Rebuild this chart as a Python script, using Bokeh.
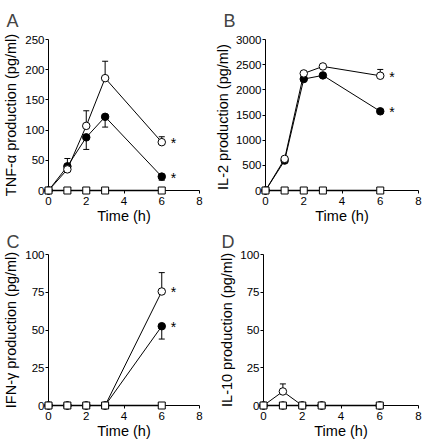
import numpy as np
from bokeh.plotting import figure
from bokeh.layouts import column, row
from bokeh.models import Range1d, FixedTicker
from bokeh.embed import file_html
from bokeh.resources import INLINE
from bokeh.core.properties import value

time_h = [0, 1, 2, 3, 6]
x_ticks = [0, 2, 4, 6, 8]

# Panel A: TNF-alpha
tnf_open = [0, 35, 107, 186, 80]
tnf_open_err = [0, 18, 25, 28, 9]
tnf_filled = [0, 40, 88, 122, 23]
tnf_filled_err = [0, 5, 20, 17, 6]
tnf_square = [0, 0, 0, 0, 0]

# Panel B: IL-2
il2_open = [0, 628, 2326, 2465, 2280]
il2_open_err = [0, 0, 0, 0, 125]
il2_filled = [0, 595, 2214, 2287, 1573]
il2_filled_err = [0, 0, 0, 0, 0]
il2_square = [0, 0, 0, 0, 0]

# Panel C: IFN-gamma
ifn_open = [0, 0, 0, 0, 75.5]
ifn_open_err = [0, 0, 0, 0, 12.5]
ifn_filled = [0, 0, 0, 0, 52.5]
ifn_filled_err = [0, 0, 0, 0, 8.5]
ifn_square = [0, 0, 0, 0, 0]

# Panel D: IL-10
il10_open = [0, 9.3, 0, 0, 0]
il10_open_err = [0, 5, 0, 0, 0]
il10_filled = [0, 0, 0, 0, 0]
il10_filled_err = [0, 0, 0, 0, 0]
il10_square = [0, 0, 0, 0, 0]

FONT = "Liberation Sans"


def make_panel(letter, ylabel, ymax, ystep, y_open, e_open, y_filled, e_filled,
               y_square, stars, width, height, left, right, top, bottom,
               title_standoff, ylabel_standoff):
    p = figure(width=width, height=height, output_backend="svg",
               toolbar_location=None, x_range=Range1d(0, 8),
               y_range=Range1d(0, ymax), min_border_left=left,
               min_border_right=right, min_border_top=top,
               min_border_bottom=bottom)
    p.outline_line_color = None
    p.grid.visible = False
    p.background_fill_color = "white"
    p.border_fill_color = "white"

    p.title.text = letter
    p.title.text_font = FONT
    p.title.text_font_size = "18px"
    p.title.text_font_style = "normal"
    p.title.align = "left"
    p.title.offset = -42
    p.title.standoff = title_standoff

    for ax in (p.xaxis[0], p.yaxis[0]):
        ax.axis_line_color = "black"
        ax.axis_line_width = 1
        ax.major_tick_line_color = "black"
        ax.major_tick_out = 3
        ax.major_tick_in = 0
        ax.minor_tick_line_color = None
        ax.major_label_text_font = FONT
        ax.major_label_text_font_size = "11.5px"
        ax.major_label_text_color = "black"
        ax.axis_label_text_font = FONT
        ax.axis_label_text_font_size = "14.5px"
        ax.axis_label_text_font_style = "normal"
        ax.axis_label_text_color = "black"
    p.xaxis.major_label_standoff = 3
    p.xaxis.axis_label_standoff = 0
    p.yaxis.major_label_standoff = 1
    p.yaxis.axis_label_standoff = ylabel_standoff
    p.xaxis.ticker = FixedTicker(ticks=x_ticks)
    p.yaxis.ticker = FixedTicker(ticks=list(range(0, ymax + 1, ystep)))
    p.xaxis.axis_label = "Time (h)"
    p.yaxis.axis_label = ylabel

    rends = []
    rends.append(p.line(time_h, y_square, line_color="black", line_width=1.4))
    rends.append(p.line(time_h, y_filled, line_color="black", line_width=1))
    rends.append(p.line(time_h, y_open, line_color="black", line_width=1))

    # error bars: open upward, filled downward
    xo = [t for t, e in zip(time_h, e_open) if e > 0]
    yo = [v for v, e in zip(y_open, e_open) if e > 0]
    eo = [e for e in e_open if e > 0]
    if xo:
        top_o = list(np.array(yo) + np.array(eo))
        rends.append(p.segment(xo, yo, xo, top_o, line_color="black", line_width=1))
        rends.append(p.dash(xo, top_o, size=6, line_color="black", line_width=1))
    xf = [t for t, e in zip(time_h, e_filled) if e > 0]
    yf = [v for v, e in zip(y_filled, e_filled) if e > 0]
    ef = [e for e in e_filled if e > 0]
    if xf:
        bot_f = list(np.array(yf) - np.array(ef))
        rends.append(p.segment(xf, yf, xf, bot_f, line_color="black", line_width=1))
        rends.append(p.dash(xf, bot_f, size=6, line_color="black", line_width=1))

    rends.append(p.scatter(time_h, y_filled, marker="circle", size=7.5,
                           fill_color="black", line_color="black", line_width=1))
    rends.append(p.scatter(time_h, y_open, marker="circle", size=7.5,
                           fill_color="white", line_color="black", line_width=1))
    rends.append(p.scatter(time_h, y_square, marker="square", size=7,
                           fill_color="white", line_color="black", line_width=1))

    if stars:
        sx = [time_h[-1], time_h[-1]]
        sy = [y_open[-1], y_filled[-1]]
        rends.append(p.text(sx, sy, text=["*", "*"], x_offset=9, y_offset=1,
                            text_baseline="middle", text_align="left",
                            text_font=value(FONT), text_font_size="14px",
                            text_color="black"))
    for r in rends:
        r.level = "overlay"
    return p


pa = make_panel("A", "TNF-\u03b1 production (pg/ml)", 250, 50, tnf_open, tnf_open_err,
                tnf_filled, tnf_filled_err, tnf_square, True,
                211, 226, 48, 12, 39, 30, 17, 3)
pb = make_panel("B", "IL-2 production  (pg/ml)", 3000, 500, il2_open, il2_open_err,
                il2_filled, il2_filled_err, il2_square, True,
                211, 226, 52, 4, 39, 30, 17, 2)
pc = make_panel("C", "IFN-\u03b3 production (pg/ml)", 100, 25, ifn_open, ifn_open_err,
                ifn_filled, ifn_filled_err, ifn_square, True,
                211, 216, 48, 12, 28, 37, 6, 3)
pd_ = make_panel("D", "IL-10 production (pg/ml)", 100, 25, il10_open, il10_open_err,
                 il10_filled, il10_filled_err, il10_square, False,
                 211, 216, 52, 4, 28, 37, 6, 2)

layout = column(row(pa, pb), row(pc, pd_))
open("out.html", "w").write(file_html(layout, INLINE))
